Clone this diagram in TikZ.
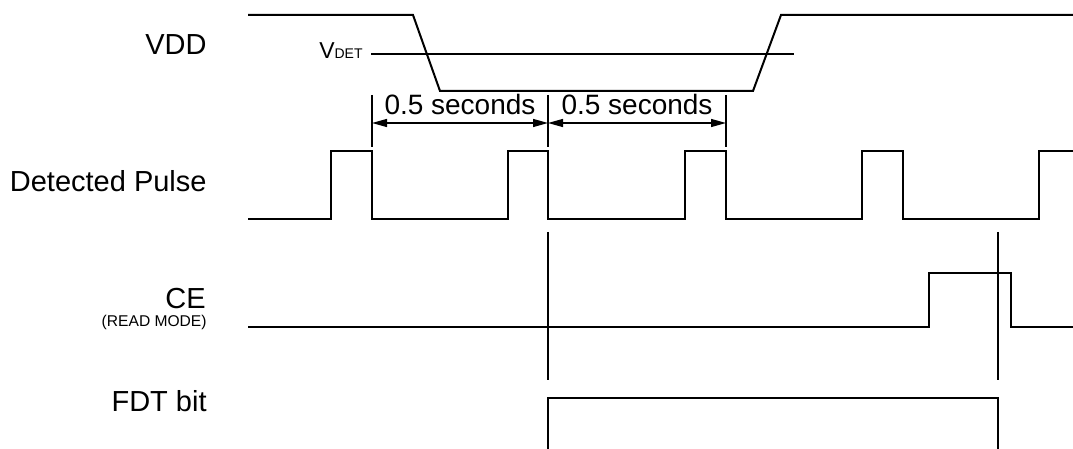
\documentclass[tikz,border=0pt]{standalone}
\usepackage{fontspec}
\setmainfont{Liberation Sans}
\usetikzlibrary{arrows.meta}
\begin{document}
\begin{tikzpicture}[x=0.5pt,y=-0.5pt]
    \tikzset {
        wave/.style = {line width=1pt, line join=miter},
        thin mark/.style = {line width=0.65pt},
        signal name/.style = {anchor=base east, inner sep=0pt, font=\fontsize{14.5}{17}\selectfont},
        dim text/.style = {anchor=base, inner sep=0pt, font=\fontsize{14}{17}\selectfont},
        dim arrow/.style = {thin mark, {Triangle[length=7.5pt,width=4pt]}-{Triangle[length=7.5pt,width=4pt]}}
    }
    \useasboundingbox (0,0) rectangle (1073,449);
    % signal names
    \node[signal name] (vdd) at (207,55) {VDD};
    \node[signal name] (pulse) at (207,192) {Detected Pulse};
    \node[signal name] (ce) at (206,308) {CE};
    \node[signal name, font=\fontsize{7.8}{9}\selectfont] (mode) at (207,327) {(READ MODE)};
    \node[signal name] (fdt) at (207,412) {FDT bit};
    % VDD with detection level
    \draw[wave] (248,15) -- (413,15) -- (440,91) -- (753,91) -- (781,15) -- (1073,15);
    \node[anchor=base east, inner sep=0pt] (vdet) at (363,59)
        {\fontsize{11.5}{13}\selectfont V\fontsize{7}{8}\selectfont DET};
    \coordinate (vdet end) at (794,54);
    \draw[thin mark] (vdet.east |- vdet end) ++(8,0) -- (vdet end);
    % detected pulses
    \draw[wave] (248,219)
        \foreach \rise/\fall in {331/372, 508/548, 685/726, 862/903} { -| (\rise,151) -| (\fall,219) }
        -| (1039,151) -- (1073,151);
    % time marks
    \coordinate (t1) at (372,95);
    \coordinate (t2) at (548,95);
    \coordinate (t3) at (726,95);
    \foreach \t in {t1,t2,t3}
        \draw[thin mark] (\t) -- ++(0,52);
    \draw[dim arrow] ([yshift=-14pt] t1) -- ([yshift=-14pt] t2);
    \draw[dim arrow] ([yshift=-14pt] t2) -- ([yshift=-14pt] t3);
    \node[dim text] (half1) at (460,115) {0.5 seconds};
    \node[dim text] (half2) at (637,115) {0.5 seconds};
    % CE
    \draw[wave] (248,327) -| (929,273) -| (1011,327) -- (1073,327);
    % FDT bit
    \coordinate (set) at (548,232);
    \coordinate (clear) at (998,232);
    \draw[thin mark] (set) -- ++(0,148);
    \draw[thin mark] (clear) -- ++(0,148);
    \draw[wave] (548,449) |- (998,398) -- (998,449);
\end{tikzpicture}
\end{document}
